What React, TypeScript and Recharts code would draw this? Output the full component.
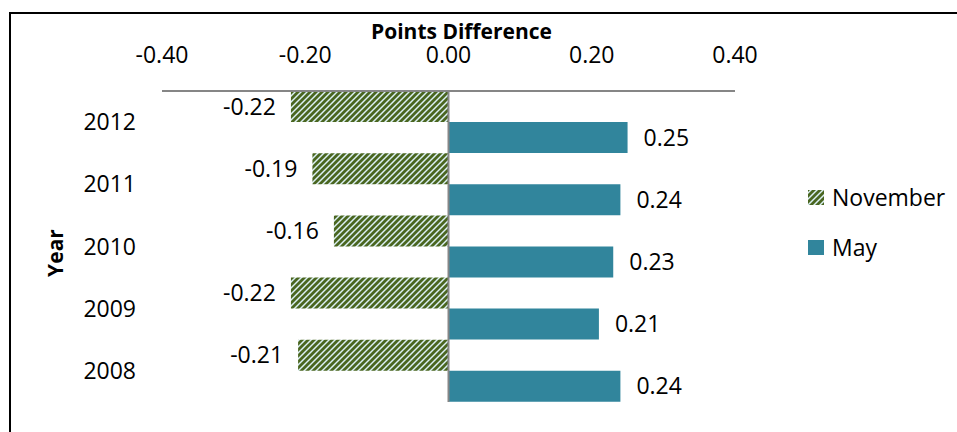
import { BarChart, Bar, XAxis, YAxis, ReferenceLine, Legend, LabelList } from "recharts";

const years = ["2012", "2011", "2010", "2009", "2008"];
const november = [-0.22, -0.19, -0.16, -0.22, -0.21];
const may = [0.25, 0.24, 0.23, 0.21, 0.24];
const xTicks = [-0.4, -0.2, 0, 0.2, 0.4];

const data = years.map((year, i) => ({ year, november: november[i], may: may[i] }));

const FONT = "'Open Sans', sans-serif";
const MAY_COLOR = "#31859c";
const GRID_GRAY = "#868686";

const fmt = (v: any) => Number(v).toFixed(2);

function renderLegend() {
  const items = [
    { name: "November", fill: "url(#novStripe)" },
    { name: "May", fill: MAY_COLOR },
  ];
  return (
    <div style={{ fontFamily: FONT, fontSize: 23, color: "#000" }}>
      {items.map((it) => (
        <div key={it.name} style={{ display: "flex", alignItems: "center", height: 50 }}>
          <svg width={16} height={15} style={{ marginRight: 8 }}>
            <rect width={16} height={15} fill={it.fill} />
          </svg>
          <span>{it.name}</span>
        </div>
      ))}
    </div>
  );
}

export default function App() {
  return (
    <div
      style={{
        position: "fixed",
        left: 0,
        top: 0,
        width: 957,
        height: 432,
        background: "#fff",
        fontFamily: FONT,
        overflow: "hidden",
      }}
    >
      <div
        style={{
          position: "absolute",
          left: 9,
          top: 12,
          width: 1000,
          height: 500,
          borderLeft: "2px solid #000",
          borderTop: "2px solid #000",
        }}
      />
      <BarChart
        width={957}
        height={432}
        data={data}
        layout="vertical"
        margin={{ top: 0, right: 222, bottom: 30, left: 10 }}
        barCategoryGap={0}
        barGap={0}
      >
        <defs>
          <pattern id="novStripe" patternUnits="userSpaceOnUse" width={6} height={6}>
            <rect width={6} height={6} fill="#dcf0f5" />
            <path d="M-1,1 l2,-2 M0,6 l6,-6 M5,7 l2,-2" stroke="#4a6620" strokeWidth={2.8} />
          </pattern>
        </defs>
        <XAxis
          type="number"
          orientation="top"
          height={91}
          domain={[-0.4, 0.4]}
          ticks={xTicks}
          tickFormatter={fmt}
          tickLine={false}
          tickSize={0}
          tickMargin={28}
          axisLine={{ stroke: GRID_GRAY, strokeWidth: 2 }}
          tick={{ fill: "#000", fontSize: 23 }}
          label={{
            content: (props: any) => {
              const vb = props.viewBox || {};
              return (
                <text
                  x={vb.x + vb.width / 2 + 13}
                  y={39}
                  textAnchor="middle"
                  fontSize={21}
                  fontWeight="bold"
                  fill="#000"
                >
                  Points Difference
                </text>
              );
            },
          }}
        />
        <YAxis
          type="category"
          dataKey="year"
          width={152}
          axisLine={false}
          tickLine={false}
          tickSize={0}
          tickMargin={26}
          tick={{ fill: "#000", fontSize: 23 }}
          label={{
            content: () => (
              <text
                x={55}
                y={253}
                transform="rotate(-90, 55, 253)"
                textAnchor="middle"
                dominantBaseline="central"
                fontSize={21}
                fontWeight="bold"
                fill="#000"
              >
                Year
              </text>
            ),
          }}
        />
        <Legend
          content={renderLegend}
          layout="vertical"
          verticalAlign="middle"
          align="center"
          wrapperStyle={{ position: "absolute", left: 808, top: 172, width: 150 }}
        />
        <Bar dataKey="november" name="November" fill="url(#novStripe)" isAnimationActive={false}>
          <LabelList dataKey="november" position="right" offset={15} formatter={fmt} fill="#000" fontSize={23} />
        </Bar>
        <Bar dataKey="may" name="May" fill={MAY_COLOR} isAnimationActive={false}>
          <LabelList dataKey="may" position="right" offset={16} formatter={fmt} fill="#000" fontSize={23} />
        </Bar>
        <ReferenceLine x={0} stroke={GRID_GRAY} strokeWidth={2} />
      </BarChart>
    </div>
  );
}
